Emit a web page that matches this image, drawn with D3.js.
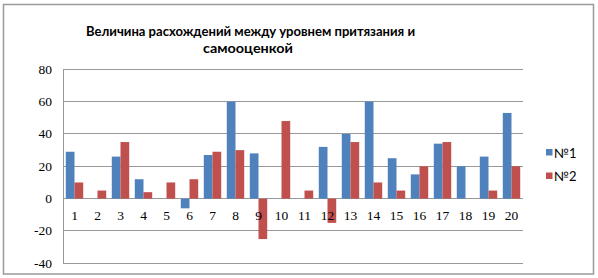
<!DOCTYPE html>
<html><head><meta charset="utf-8">
<script src="https://cdn.jsdelivr.net/npm/d3@7"></script>
<style>body{margin:0;background:#fff}svg{display:block}</style>
</head><body>
<svg id="c" width="598" height="278"></svg>
<script>
const categories = ["1","2","3","4","5","6","7","8","9","10","11","12","13","14","15","16","17","18","19","20"];
const series1 = [29,0,26,12,0,-6,27,60,28,0,0,32,40,60,25,15,34,20,26,53];
const series2 = [10,5,35,4,10,12,29,30,-25,48,5,-15,35,10,5,20,35,0,5,20];
const seriesNames = ["№1","№2"];
const yTicks = [-40,-20,0,20,40,60,80];
const titleLines = ["Величина расхождений между уровнем притязания и","самооценкой"];

const colors = ["#4F81BD","#C0504D"];
const svg = d3.select("#c");
svg.append("rect").attr("x",3.5).attr("y",4.5).attr("width",590).attr("height",269.5)
  .attr("fill","#fff").attr("stroke","#9a9a9a").attr("stroke-width",1.5);

const L=63,R=523,T=69.3,B=263.3;
const y = d3.scaleLinear().domain([-40,80]).range([B,T]);
const x = d3.scaleBand().domain(categories).range([L,R]);
const inner = d3.scaleBand().domain([0,1]).range([0,x.bandwidth()]).paddingInner(0).paddingOuter(0.32);

svg.append("g").selectAll("line").data(yTicks).join("line")
  .attr("x1",L).attr("x2",R).attr("y1",d=>y(d)).attr("y2",d=>y(d))
  .attr("stroke","#999").attr("stroke-width",1).attr("shape-rendering","crispEdges");
svg.append("line").attr("x1",L).attr("x2",L).attr("y1",T).attr("y2",B)
  .attr("stroke","#999").attr("shape-rendering","crispEdges");

[series1,series2].forEach((s,i)=>{
  svg.append("g").selectAll("rect").data(s).join("rect")
    .attr("x",(d,j)=>x(categories[j])+inner(i))
    .attr("width",inner.bandwidth())
    .attr("y",d=>y(Math.max(0,d)))
    .attr("height",d=>Math.abs(y(d)-y(0)))
    .attr("fill",colors[i]);
});

svg.append("g").selectAll("text").data(yTicks).join("text")
  .attr("x",52).attr("y",d=>y(d)+4.5).attr("text-anchor","end")
  .attr("font-family","Liberation Serif, serif").attr("font-size",13.5).attr("fill","#000")
  .text(d=>d);
svg.append("g").selectAll("text").data(categories).join("text")
  .attr("x",d=>x(d)+x.bandwidth()/2).attr("y",y(0)+21.5).attr("text-anchor","middle")
  .attr("font-family","Liberation Serif, serif").attr("font-size",13.5).attr("fill","#000")
  .text(d=>d);

svg.append("g").selectAll("text").data(titleLines).join("text")
  .attr("x",(d,i)=>i===0?250.5:248).attr("y",(d,i)=>36+i*16.5).attr("text-anchor","middle")
  .attr("font-family","Lato, sans-serif").attr("font-weight","bold").attr("font-size",14).attr("fill","#000")
  .attr("textLength",(d,i)=>i===0?329:90).attr("lengthAdjust","spacingAndGlyphs")
  .text(d=>d);

const lg = svg.append("g");
seriesNames.forEach((n,i)=>{
  lg.append("rect").attr("x",546).attr("y",149+i*23.5).attr("width",6.5).attr("height",6.5).attr("fill",colors[i]);
  lg.append("text").attr("x",554).attr("y",157.5+i*23.5).attr("font-family","Lato, sans-serif")
    .attr("font-size",13).attr("fill","#000").text(n);
});
</script>
</body></html>
